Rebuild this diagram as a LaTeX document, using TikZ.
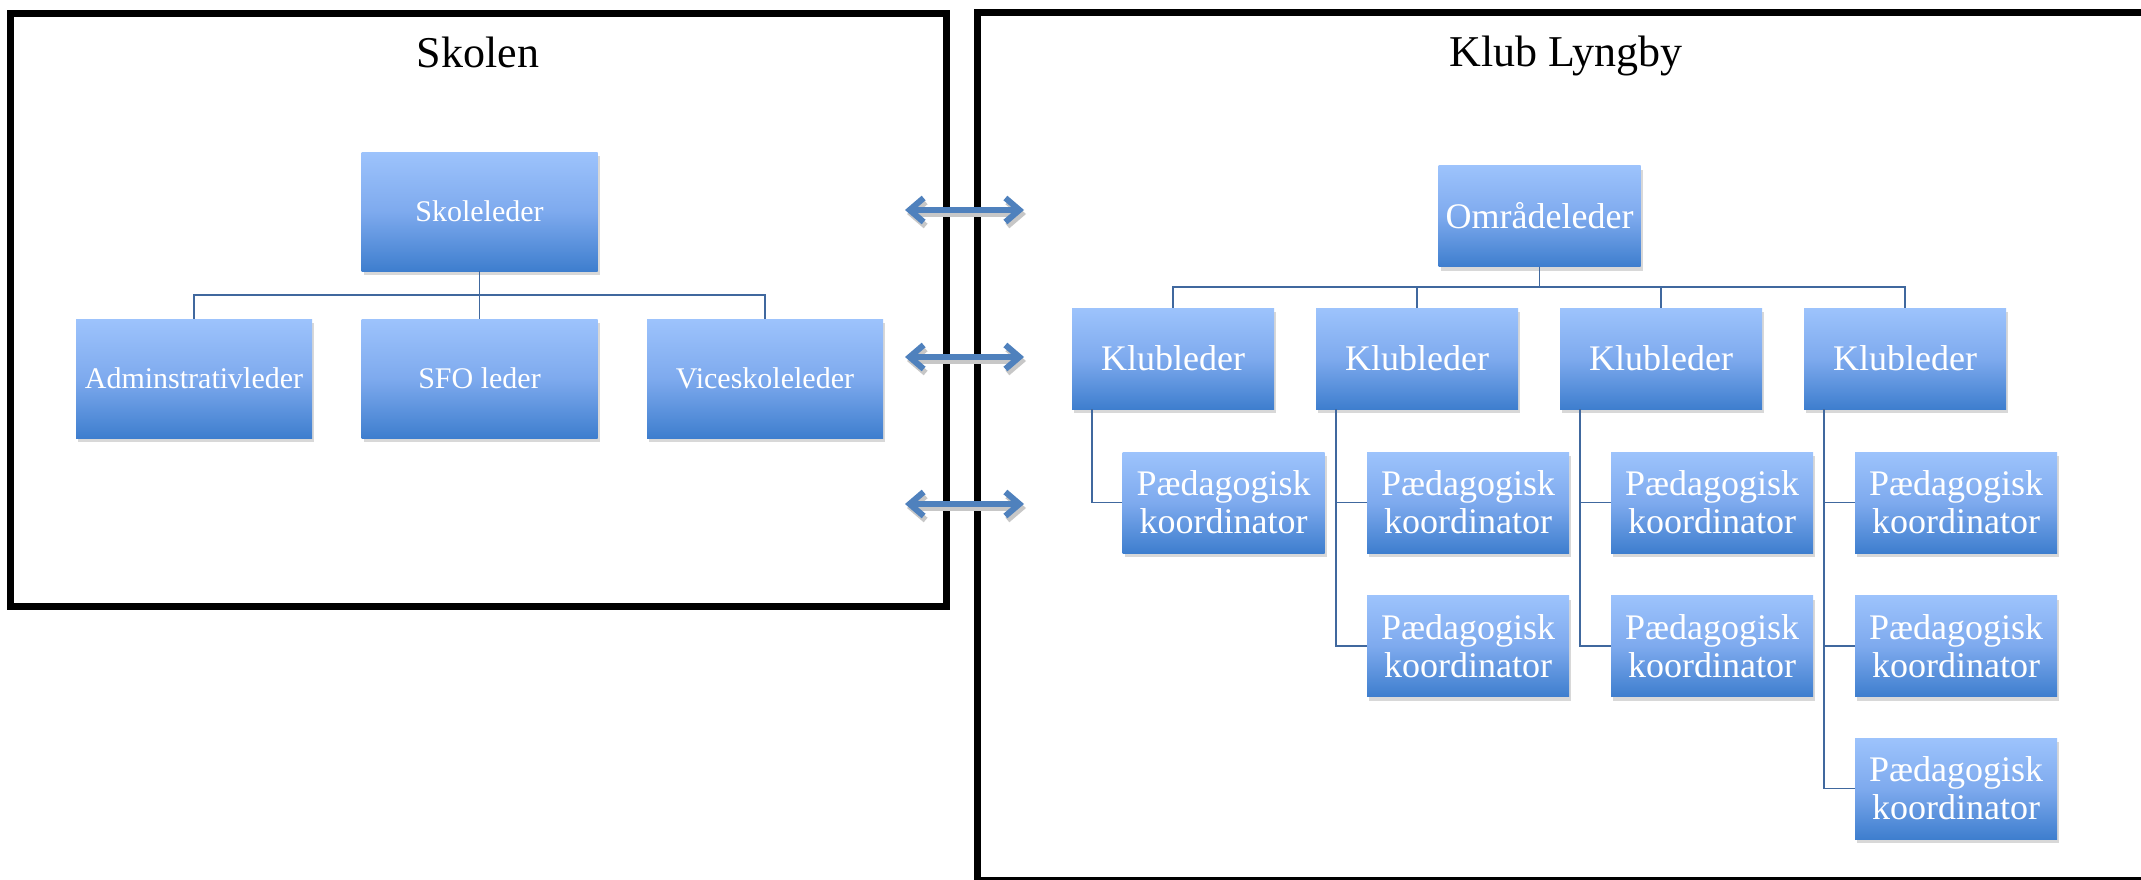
\documentclass[tikz,border=0pt]{standalone}
\usepackage{fontspec}
\setmainfont{Liberation Serif}
\usetikzlibrary{arrows.meta,shadows}
\definecolor{boxtop}{RGB}{157,195,252}
\definecolor{boxmid}{RGB}{126,170,238}
\definecolor{boxbot}{RGB}{62,126,206}
\definecolor{linkblue}{RGB}{64,104,158}
\definecolor{arrowblue}{RGB}{79,129,189}

\begin{document}
\begin{tikzpicture}
  [x=1pt,y=-1pt,
   box/.style={rectangle,inner sep=0pt,text=white,align=center,
     top color=boxtop,bottom color=boxbot,middle color=boxmid,
     drop shadow={shadow xshift=2pt,shadow yshift=-4pt,opacity=0.3}},
   smallbox/.style={box,minimum width=236pt,minimum height=119pt,font=\fontsize{30}{34}\selectfont},
   bigbox/.style={box,minimum width=202pt,minimum height=101pt,font=\fontsize{36}{38}\selectfont},
   frame/.style={draw=black,line width=7pt},
   link/.style={draw=linkblue,line width=1.8pt},
   twoway/.style={draw=arrowblue,line width=6pt,
     {Straight Barb[length=14pt,width=24pt]}-{Straight Barb[length=14pt,width=24pt]}}]

  \clip (0,0) rectangle (2141,880);
  \fill[white] (0,0) rectangle (2141,880);

  % the two frames
  \draw[frame] (10,13.5) rectangle (946.5,606);
  \draw[frame] (977,13) rectangle (2170,880);
  \node[anchor=base,font=\fontsize{44}{48}\selectfont] (t1) at (478,68) {Skolen};
  \node[anchor=base,font=\fontsize{44}{48}\selectfont] (t2) at (1566,67) {Klub Lyngby};

  % Skolen
  \node[smallbox] (n1) at (479.5,211.5) {Skoleleder};
  \node[smallbox] (n2) at (194,378.5) {Adminstrativleder};
  \node[smallbox] (n3) at (479.5,378.5) {SFO leder};
  \node[smallbox] (n4) at (765,378.5) {Viceskoleleder};
  \foreach \to in {n2,n3,n4}
    \draw[link] (n1.south) -- ++(0,24) -| (\to.north);

  % Klub Lyngby
  \node[bigbox] (m0) at (1539.5,216) {Områdeleder};
  \node[bigbox] (k1) at (1173,358.5) {Klubleder};
  \node[bigbox] (k2) at (1417,358.5) {Klubleder};
  \node[bigbox] (k3) at (1661,358.5) {Klubleder};
  \node[bigbox] (k4) at (1905,358.5) {Klubleder};
  \node[bigbox] (p11) at (1223.5,502.5) {Pædagogisk\\koordinator};
  \node[bigbox] (p21) at (1468,502.5) {Pædagogisk\\koordinator};
  \node[bigbox] (p22) at (1468,646) {Pædagogisk\\koordinator};
  \node[bigbox] (p31) at (1712,502.5) {Pædagogisk\\koordinator};
  \node[bigbox] (p32) at (1712,646) {Pædagogisk\\koordinator};
  \node[bigbox] (p41) at (1956,502.5) {Pædagogisk\\koordinator};
  \node[bigbox] (p42) at (1956,646) {Pædagogisk\\koordinator};
  \node[bigbox] (p43) at (1956,788.5) {Pædagogisk\\koordinator};
  \foreach \to in {k1,k2,k3,k4}
    \draw[link] (m0.south) -- ++(0,20) -| (\to.north);
  \foreach \from/\to in {k1/p11,k2/p21,k2/p22,k3/p31,k3/p32,k4/p41,k4/p42,k4/p43}
    \draw[link] ([xshift=20pt]\from.south west) |- (\to.west);

  % arrows between the frames
  \foreach \i/\y in {1/210,2/357,3/504} {
    \coordinate (a\i) at (905,\y);
    \coordinate (b\i) at (1024,\y);
    \draw[twoway,draw=black!22] ([shift={(2,4)}]a\i) -- ([shift={(2,4)}]b\i);
    \draw[twoway] (a\i) -- (b\i);
  }
\end{tikzpicture}
\end{document}
